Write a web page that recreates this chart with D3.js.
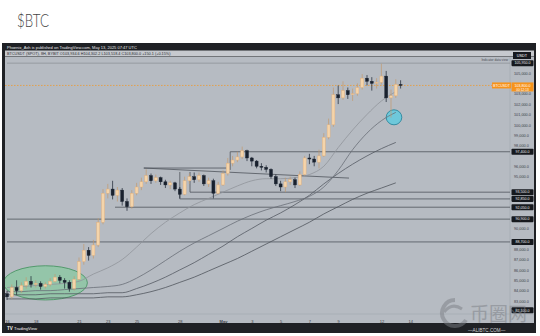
<!DOCTYPE html>
<html>
<head>
<meta charset="utf-8">
<script src="https://cdn.jsdelivr.net/npm/d3@7"></script>
<style>
html, body { margin: 0; padding: 0; background: #fff; }
svg { display: block; }
</style>
</head>
<body>
<svg id="chart" width="540" height="336"></svg>
<script>
// BTCUSDT 8h candles, first one opens 16 Apr 2025 00:00 UTC (values in k USDT)
const firstOpen = 83.7;
const closes = [83.4,84.3,84.0, 84.5,84.9,84.6, 84.7,84.4,84.6, 84.9,85.3,85.0, 84.8,84.2,85.1,
  86.8,87.9,87.4, 88.4,90.6,93.4, 93.8,93.2,93.7, 92.6,92.1,93.4, 94.0,94.5,95.1,
  94.6,94.9,94.5, 94.2,94.4,93.8, 93.3,94.6,95.0, 94.7,95.1,94.3, 94.6,93.4,94.2,
  95.3,96.3,96.6, 96.9,97.5,96.8, 96.5,96.0,95.9, 95.7,95.0,94.3, 94.0,94.5,94.7,
  94.2,95.2,96.8, 96.7,96.4,97.0, 98.8,100.0,102.9, 102.6,103.3,102.9, 103.0,103.6,104.5,
  104.2,104.0,104.1, 104.7,102.6,102.8, 103.9,103.8];
const highs = [84.0,84.6,85.0, 84.8,85.3,85.4, 85.0,84.9,84.8, 85.2,85.6,85.5, 85.2,85.0,85.4,
  87.2,88.5,88.2, 88.9,91.0,93.8, 94.3,94.6,94.0, 93.9,92.9,93.7, 94.4,94.9,95.7,
  95.3,95.2,95.0, 94.7,94.6,94.5, 94.0,95.0,95.3, 95.4,95.4,95.2, 94.9,94.8,94.5,
  95.6,96.8,97.0, 97.4,97.9,97.6, 96.9,96.6,96.3, 96.1,95.8,95.2, 94.6,94.9,95.0,
  94.9,95.5,97.0, 97.2,97.0,97.6, 99.2,100.6,103.6, 103.8,104.2,103.6, 103.5,104.0,104.9,
  104.8,104.6,104.5, 105.9,105.2,103.4, 104.4,104.3];
const lows = [83.1,83.2,83.6, 83.8,84.2,84.3, 84.3,84.1,84.2, 84.4,84.8,84.7, 84.2,83.9,84.0,
  85.0,86.5,86.9, 87.1,88.2,90.4, 92.9,92.8,92.6, 92.2,91.7,91.9, 93.2,93.7,94.3,
  94.3,94.4,94.2, 93.9,93.8,93.6, 92.9,93.2,94.3, 94.4,94.5,94.1, 94.0,92.9,93.3,
  94.1,95.1,96.0, 96.4,96.7,96.5, 96.0,95.8,95.6, 95.4,94.8,94.1, 93.6,93.5,94.2,
  93.9,94.1,95.1, 96.2,96.0,95.8, 96.9,98.6,99.8, 102.0,102.4,102.5, 102.3,102.8,103.4,
  103.8,103.3,103.5, 103.9,102.2,100.7, 102.6,103.5];

// moving averages, one value per day from 16 Apr
const ma1 = [84.3,84.4,84.5,84.6,84.7,84.9,85.6,86.2,87.0,88.2,89.5,90.6,91.5,92.3,92.9,93.5,94.1,94.6,94.8,94.8,94.9,95.2,96.0,97.8,99.5,101.0,102.3,103.2];
const ma2 = [83.9,83.9,84.0,84.0,84.1,84.2,84.3,84.4,84.6,85.2,86.0,86.9,87.8,88.6,89.3,90.0,90.7,91.3,91.8,92.2,92.6,93.1,94.0,95.6,97.6,99.2,100.4,101.2];
const ma3 = [83.6,83.6,83.6,83.7,83.7,83.7,83.7,83.8,83.8,84.2,84.7,85.3,86.0,86.7,87.5,88.3,89.2,90.0,90.8,91.5,92.3,93.2,94.3,95.3,96.2,97.0,97.7,98.3];
const ma4 = [83.2,83.2,83.2,83.3,83.3,83.3,83.3,83.4,83.4,83.6,83.9,84.3,84.8,85.3,85.9,86.5,87.1,87.8,88.5,89.2,89.9,90.6,91.4,92.1,92.8,93.4,93.9,94.4];

// horizontal levels drawn on the chart
const levels = [105950, 97400, 93500, 92850, 92050, 90900, 88700];
const levelFrom = ["2025-04-16", "2025-05-01T12:00", "2025-04-28T17:00", "2025-04-28T00:00", "2025-04-23T12:00", "2025-04-16", "2025-04-16"];
const bottomLabel = 82100;

// trend lines [date, price]
const trendLines = [
  [["2025-04-25T12:00", 95830], ["2025-05-01T06:00", 95830]],
  [["2025-04-25T12:00", 95830], ["2025-05-09T18:00", 94860]],
  [["2025-05-01T12:00", 97400], ["2025-05-01T12:00", 95650]],
  [["2025-04-28T00:00", 95450], ["2025-04-28T00:00", 92850]],
  [["2025-04-28T17:00", 95450], ["2025-04-28T17:00", 93500]]
];

// highlighted zones [from, to], [low, high]
const greenZone = [["2025-04-15T18:00", "2025-04-21T14:00"], [83100, 86400]];
const blueZone = [["2025-05-12T08:00", "2025-05-13T10:00"], [100000, 101450]];

const lastPrice = 103800;
const priceTicks = [83000,84000,85000,86000,87000,88000,89000,90000,91000,92000,93000,94000,95000,96000,97000,98000,99000,100000,101000,102000,103000,104000,105000];
const timeTicks = ["2025-04-16","2025-04-18","2025-04-21","2025-04-23","2025-04-25","2025-04-28","2025-05-01","2025-05-03","2025-05-05","2025-05-07","2025-05-09","2025-05-12","2025-05-14"];
const timeLabels = ["16","18","21","23","25","28","May","3","5","7","9","12","14"];

const plotLeft = 5, plotRight = 510, plotTop = 57, plotBottom = 314;
const font = "'Liberation Sans', Arial, sans-serif";
const day = 864e5;
const start = Date.UTC(2025, 3, 16);
const t = s => new Date(s + (s.length == 10 ? "T00:00Z" : "Z"));

const x = d3.scaleUtc()
  .domain([new Date(start), new Date(Date.UTC(2025, 4, 1))])
  .range([7, 223]);
const y = d3.scaleLinear().domain([83000, 105000]).range([301, 73]);

const svg = d3.select("#chart");

// title
svg.append("text").attr("x", 17).attr("y", 27)
  .attr("font-family", "Lato, 'Open Sans', sans-serif").attr("font-weight", 300)
  .attr("font-size", 17).attr("fill", "#444").attr("textLength", 32)
  .attr("lengthAdjust", "spacingAndGlyphs").text("$BTC");

// frame
svg.append("rect").attr("x", 2).attr("y", 43).attr("width", 534).attr("height", 290).attr("fill", "#1f2125");
svg.append("rect").attr("x", plotLeft).attr("y", 50.5).attr("width", 529).attr("height", 6).attr("fill", "#c6c9ce");
svg.append("rect").attr("x", plotLeft).attr("y", plotTop).attr("width", 529).attr("height", 266).attr("fill", "#b6bbc2");

svg.append("text").attr("x", 7).attr("y", 48.6).attr("font-family", font).attr("font-size", 4)
  .attr("fill", "#e8e8e8").text("Phoenix_Ash is published on TradingView.com, May 13, 2025 07:47 UTC");
svg.append("text").attr("x", 7).attr("y", 55).attr("font-family", font).attr("font-size", 3.8)
  .attr("fill", "#2a2d33").text("BTCUSDT (SPOT), 8H, BYBIT  O103,934.6  H104,302.2  L103,518.4  C103,800.0  +150.1 (+0.15%)");

// axes separators
svg.append("line").attr("x1", plotRight).attr("x2", plotRight).attr("y1", plotTop).attr("y2", 323).attr("stroke", "#a3a7ae").attr("stroke-width", 0.6);
svg.append("line").attr("x1", plotLeft).attr("x2", 534).attr("y1", plotBottom).attr("y2", plotBottom).attr("stroke", "#a3a7ae").attr("stroke-width", 0.6);

svg.append("clipPath").attr("id", "plot")
  .append("rect").attr("x", plotLeft).attr("y", plotTop).attr("width", plotRight - plotLeft).attr("height", plotBottom - plotTop);
const g = svg.append("g").attr("clip-path", "url(#plot)");

// zones
function ellipse(zone, fill, stroke) {
  const x0 = x(t(zone[0][0])), x1 = x(t(zone[0][1]));
  const y0 = y(zone[1][1]), y1 = y(zone[1][0]);
  g.append("ellipse").attr("cx", (x0 + x1) / 2).attr("cy", (y0 + y1) / 2)
    .attr("rx", (x1 - x0) / 2).attr("ry", (y1 - y0) / 2)
    .attr("fill", fill).attr("stroke", stroke).attr("stroke-width", 0.8);
}
ellipse(greenZone, "rgba(120,205,150,0.55)", "#3f8f5a");
ellipse(blueZone, "rgba(80,205,228,0.7)", "#1d7f97");

// levels
levels.forEach((p, i) => {
  g.append("line").attr("x1", x(t(levelFrom[i]))).attr("x2", plotRight)
    .attr("y1", y(p)).attr("y2", y(p))
    .attr("stroke", i == 0 ? "#8d9198" : "#4f545c").attr("stroke-width", 0.8);
});
trendLines.forEach(l => {
  g.append("line").attr("x1", x(t(l[0][0]))).attr("y1", y(l[0][1]))
    .attr("x2", x(t(l[1][0]))).attr("y2", y(l[1][1]))
    .attr("stroke", "#4f545c").attr("stroke-width", 0.8);
});

// moving averages
const maLine = d3.line().x((d, i) => x(new Date(start + i * day))).y(d => y(d * 1000)).curve(d3.curveMonotoneX);
[[ma4, "#50555d"], [ma3, "#565b63"], [ma2, "#6a6f77"], [ma1, "#90949b"]].forEach(m => {
  g.append("path").attr("d", maLine(m[0])).attr("fill", "none").attr("stroke", m[1]).attr("stroke-width", 0.8);
});

// last price line
g.append("line").attr("x1", plotLeft).attr("x2", plotRight).attr("y1", y(lastPrice)).attr("y2", y(lastPrice))
  .attr("stroke", "#f7931a").attr("stroke-width", 0.7).attr("stroke-dasharray", "1.5,1.5");

// candles
const candles = closes.map((c, i) => ({
  t: new Date(start + i * 8 * 36e5),
  o: i == 0 ? firstOpen : closes[i - 1],
  h: highs[i], l: lows[i], c: c
}));
const cg = g.selectAll("g.candle").data(candles).join("g").attr("class", "candle");
cg.append("line")
  .attr("x1", d => x(d.t)).attr("x2", d => x(d.t))
  .attr("y1", d => y(d.h * 1000)).attr("y2", d => y(d.l * 1000))
  .attr("stroke", d => d.c >= d.o ? "#c39b70" : "#1a2230").attr("stroke-width", 0.7);
cg.append("rect")
  .attr("x", d => x(d.t) - 1.5).attr("width", 3)
  .attr("y", d => y(Math.max(d.o, d.c) * 1000))
  .attr("height", d => Math.max(0.8, Math.abs(y(d.o * 1000) - y(d.c * 1000))))
  .attr("fill", d => d.c >= d.o ? "#f4d4aa" : "#19212e")
  .attr("stroke", d => d.c >= d.o ? "#e4b079" : "#19212e").attr("stroke-width", 0.4);

// price axis
const levelYs = levels.concat([lastPrice, bottomLabel]).map(y);
const shownTicks = priceTicks.filter(p => levelYs.every(v => Math.abs(v - y(p)) > 6));
const yAxis = svg.append("g").attr("transform", `translate(${plotRight + 3},0)`)
  .call(d3.axisRight(y).tickValues(shownTicks).tickSize(0).tickFormat(d3.format(",.1f")));
yAxis.select(".domain").remove();
yAxis.selectAll("text").attr("font-family", font).attr("font-size", 3.8).attr("fill", "#3d4148").attr("x", 1);

levels.concat([bottomLabel]).forEach(p => {
  svg.append("rect").attr("x", plotRight + 1.5).attr("y", y(p) - 3).attr("width", 22).attr("height", 6).attr("rx", 0.8).attr("fill", "#16191e");
  svg.append("text").attr("x", plotRight + 12.5).attr("y", y(p) + 1.3).attr("text-anchor", "middle")
    .attr("font-family", font).attr("font-size", 3.6).attr("fill", "#f0f0f0").text(d3.format(",.1f")(p));
});

// last price labels
svg.append("rect").attr("x", 492).attr("y", y(lastPrice) - 3).attr("width", 19).attr("height", 6).attr("fill", "#f7931a");
svg.append("text").attr("x", 501.5).attr("y", y(lastPrice) + 1.3).attr("text-anchor", "middle")
  .attr("font-family", font).attr("font-size", 3.6).attr("fill", "#fff").text("BTCUSDT");
svg.append("rect").attr("x", plotRight + 1.5).attr("y", y(lastPrice) - 3).attr("width", 22).attr("height", 9).attr("fill", "#f7931a");
svg.append("text").attr("x", plotRight + 12.5).attr("y", y(lastPrice) + 1.3).attr("text-anchor", "middle")
  .attr("font-family", font).attr("font-size", 3.6).attr("fill", "#fff").text(d3.format(",.1f")(lastPrice));
svg.append("text").attr("x", plotRight + 12.5).attr("y", y(lastPrice) + 5.2).attr("text-anchor", "middle")
  .attr("font-family", font).attr("font-size", 3.2).attr("fill", "#fff").text("00:12:13");

// currency box and small legend
svg.append("rect").attr("x", 513).attr("y", 52).attr("width", 18).attr("height", 7).attr("fill", "#16191e");
svg.append("text").attr("x", 522).attr("y", 57).attr("text-anchor", "middle").attr("font-family", font)
  .attr("font-size", 3.8).attr("fill", "#fff").text("USDT");
svg.append("text").attr("x", 508).attr("y", 61).attr("text-anchor", "end").attr("font-family", font)
  .attr("font-size", 3.2).attr("fill", "#4a4e55").text("Indicator data view");

// time axis
const xAxis = svg.append("g").attr("transform", `translate(0,${plotBottom + 3})`)
  .call(d3.axisBottom(x).tickValues(timeTicks.map(t)).tickSize(0).tickFormat((d, i) => timeLabels[i]));
xAxis.select(".domain").remove();
xAxis.selectAll("text").attr("font-family", font).attr("font-size", 4).attr("fill", "#3d4148")
  .attr("font-weight", (d, i) => timeLabels[i] == "May" ? "bold" : "normal");

// bottom bar
svg.append("rect").attr("x", 2).attr("y", 323).attr("width", 534).attr("height", 10).attr("fill", "#1f2125");
svg.append("text").attr("x", 7).attr("y", 330).attr("font-family", font).attr("font-weight", "bold")
  .attr("font-size", 4.5).attr("fill", "#f2f2f2").text("TV");
svg.append("text").attr("x", 14).attr("y", 330).attr("font-family", font)
  .attr("font-size", 4.2).attr("fill", "#f2f2f2").text("TradingView");

// watermark
const wm = svg.append("g").attr("opacity", 0.5);
wm.append("path").attr("d", "M 455 300 A 13 13 0 1 0 466 320").attr("fill", "none").attr("stroke", "#7c7f85").attr("stroke-width", 4);
wm.append("path").attr("d", "M 444 312 Q 452 302 462 309").attr("fill", "none").attr("stroke", "#7c7f85").attr("stroke-width", 3);
wm.append("text").attr("x", 470).attr("y", 321).attr("font-family", "'Noto Sans CJK SC', sans-serif")
  .attr("font-size", 19).attr("fill", "#7c7f85").text("币圈网");
svg.append("text").attr("x", 468).attr("y", 332).attr("font-family", font).attr("font-size", 4.6)
  .attr("fill", "#cfd1d4").text("—ALIBTC.COM—");
</script>
</body>
</html>
